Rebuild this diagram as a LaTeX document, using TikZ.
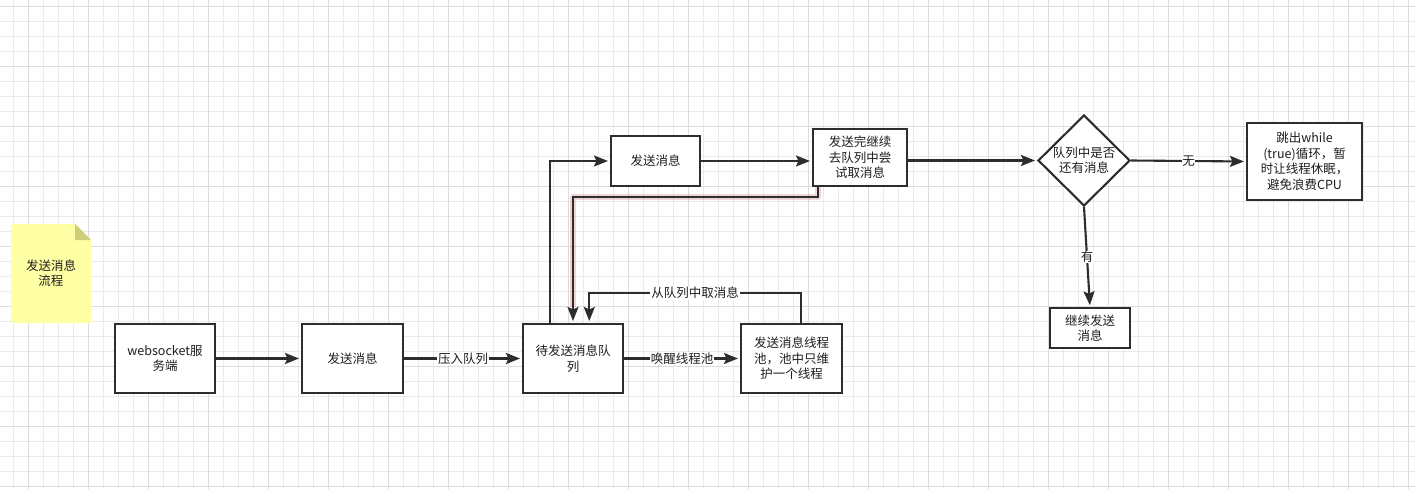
\documentclass[tikz,border=0pt]{standalone}
\usepackage{fontspec}
\setmainfont{Noto Sans CJK SC}
\usetikzlibrary{arrows.meta,shapes.geometric,calc}
\definecolor{minorgrid}{RGB}{234,234,234}
\definecolor{majorgrid}{RGB}{220,220,220}
\definecolor{ink}{RGB}{45,45,45}
\definecolor{txt}{RGB}{30,30,30}
\definecolor{notefill}{RGB}{255,255,165}
\definecolor{notefold}{RGB}{205,205,122}
\definecolor{glow}{RGB}{200,120,120}
\begin{document}
\begin{tikzpicture}[x=1pt,y=-1pt,
  every node/.style={text=txt,font=\fontsize{12.5}{15.5}\selectfont,align=center},
  box/.style={draw=ink,line width=2.1pt,fill=white,inner sep=0pt},
  dec/.style={diamond,draw=ink,line width=2.1pt,fill=white,inner sep=0pt,aspect=1},
  arr/.style={draw=ink,line width=2.1pt,-{Stealth[length=14pt,width=11pt,inset=2.5pt]},shorten >=2pt},
  lbl/.style={fill=white,inner sep=1pt},
]
\useasboundingbox (0,0) rectangle (1415,489);
\fill[white] (0,0) rectangle (1415,489);
% grid
\foreach \i in {0,...,94}{\draw[minorgrid,line width=1pt] ({13.3+15*\i},0) -- ({13.3+15*\i},489);}
\foreach \i in {0,...,32}{\draw[minorgrid,line width=1pt] (0,{6.7+15*\i}) -- (1415,{6.7+15*\i});}
\foreach \i in {0,...,23}{\draw[majorgrid,line width=1pt] ({28.3+60*\i},0) -- ({28.3+60*\i},489);}
\foreach \i in {0,...,8}{\draw[majorgrid,line width=1pt] (0,{6.7+60*\i}) -- (1415,{6.7+60*\i});}
% note
\fill[notefill] (11,224) -- (75,224) -- (91,240) -- (91,323) -- (11,323) -- cycle;
\fill[notefold] (75,224) -- (75,240) -- (91,240) -- cycle;
\node (note) at (51,273) {发送消息\\流程};
% boxes
\node[box,minimum width=100pt,minimum height=69pt] (ws) at (165,358.5) {websocket服\\务端};
\node[box,minimum width=101pt,minimum height=69pt] (send1) at (352.5,358.5) {发送消息};
\node[box,minimum width=100pt,minimum height=69pt] (queue) at (573,358.5) {待发送消息队\\列};
\node[box,minimum width=101pt,minimum height=69pt] (pool) at (791.5,358.5) {发送消息线程\\池，池中只维\\护一个线程};
\node[box,minimum width=89pt,minimum height=50pt] (send2) at (655.5,161) {发送消息};
\node[box,minimum width=94pt,minimum height=57pt] (cont) at (860,157.5) {发送完继续\\去队列中尝\\试取消息};
\node[dec,minimum width=92pt,minimum height=91pt] (dia) at (1084,160.5) {队列中是否\\还有消息};
\node[box,minimum width=115pt,minimum height=77pt] (jump) at (1304.5,161.5) {跳出while\\(true)循环，暂\\时让线程休眠，\\避免浪费CPU};
\node[box,minimum width=80pt,minimum height=40pt] (more) at (1090,328.3) {继续发送\\消息};
% connectors
\draw[arr] (ws.east) -- (send1.west);
\draw[arr] (send1.east) -- node[lbl]{压入队列} (queue.west);
\draw[arr] (queue.east) -- node[lbl]{唤醒线程池} (pool.west);
\coordinate (la) at (801,292.7);
\coordinate (lb) at (589.3,292.7);
\draw[arr] ([xshift=9.5pt]pool.north) -- (la) -- node[lbl]{从队列中取消息} (lb) -- ([xshift=16.3pt]queue.north);
\draw[arr] ([xshift=-23pt]queue.north) |- (send2.west);
\draw[arr] (send2.east) -- (send2.east -| cont.west);
\draw[arr] (cont.east |- dia.west) -- (dia.west);
\coordinate (ha) at (817.7,197.3);
\coordinate (hb) at (573,197.3);
\draw[glow,line width=6pt,opacity=0.3,line join=round] ([xshift=-42.3pt]cont.south) -- (ha) -- (hb) -- ([yshift=16pt]queue.north);
\draw[arr] ([xshift=-42.3pt]cont.south) -- (ha) -- (hb) -- (queue.north);
\draw[arr] (dia.east) -- node[lbl,inner sep=0.5pt]{无} (jump.west);
\draw[arr] (dia.south) -- node[lbl,inner sep=0.5pt]{有} (more.north);
\end{tikzpicture}
\end{document}
